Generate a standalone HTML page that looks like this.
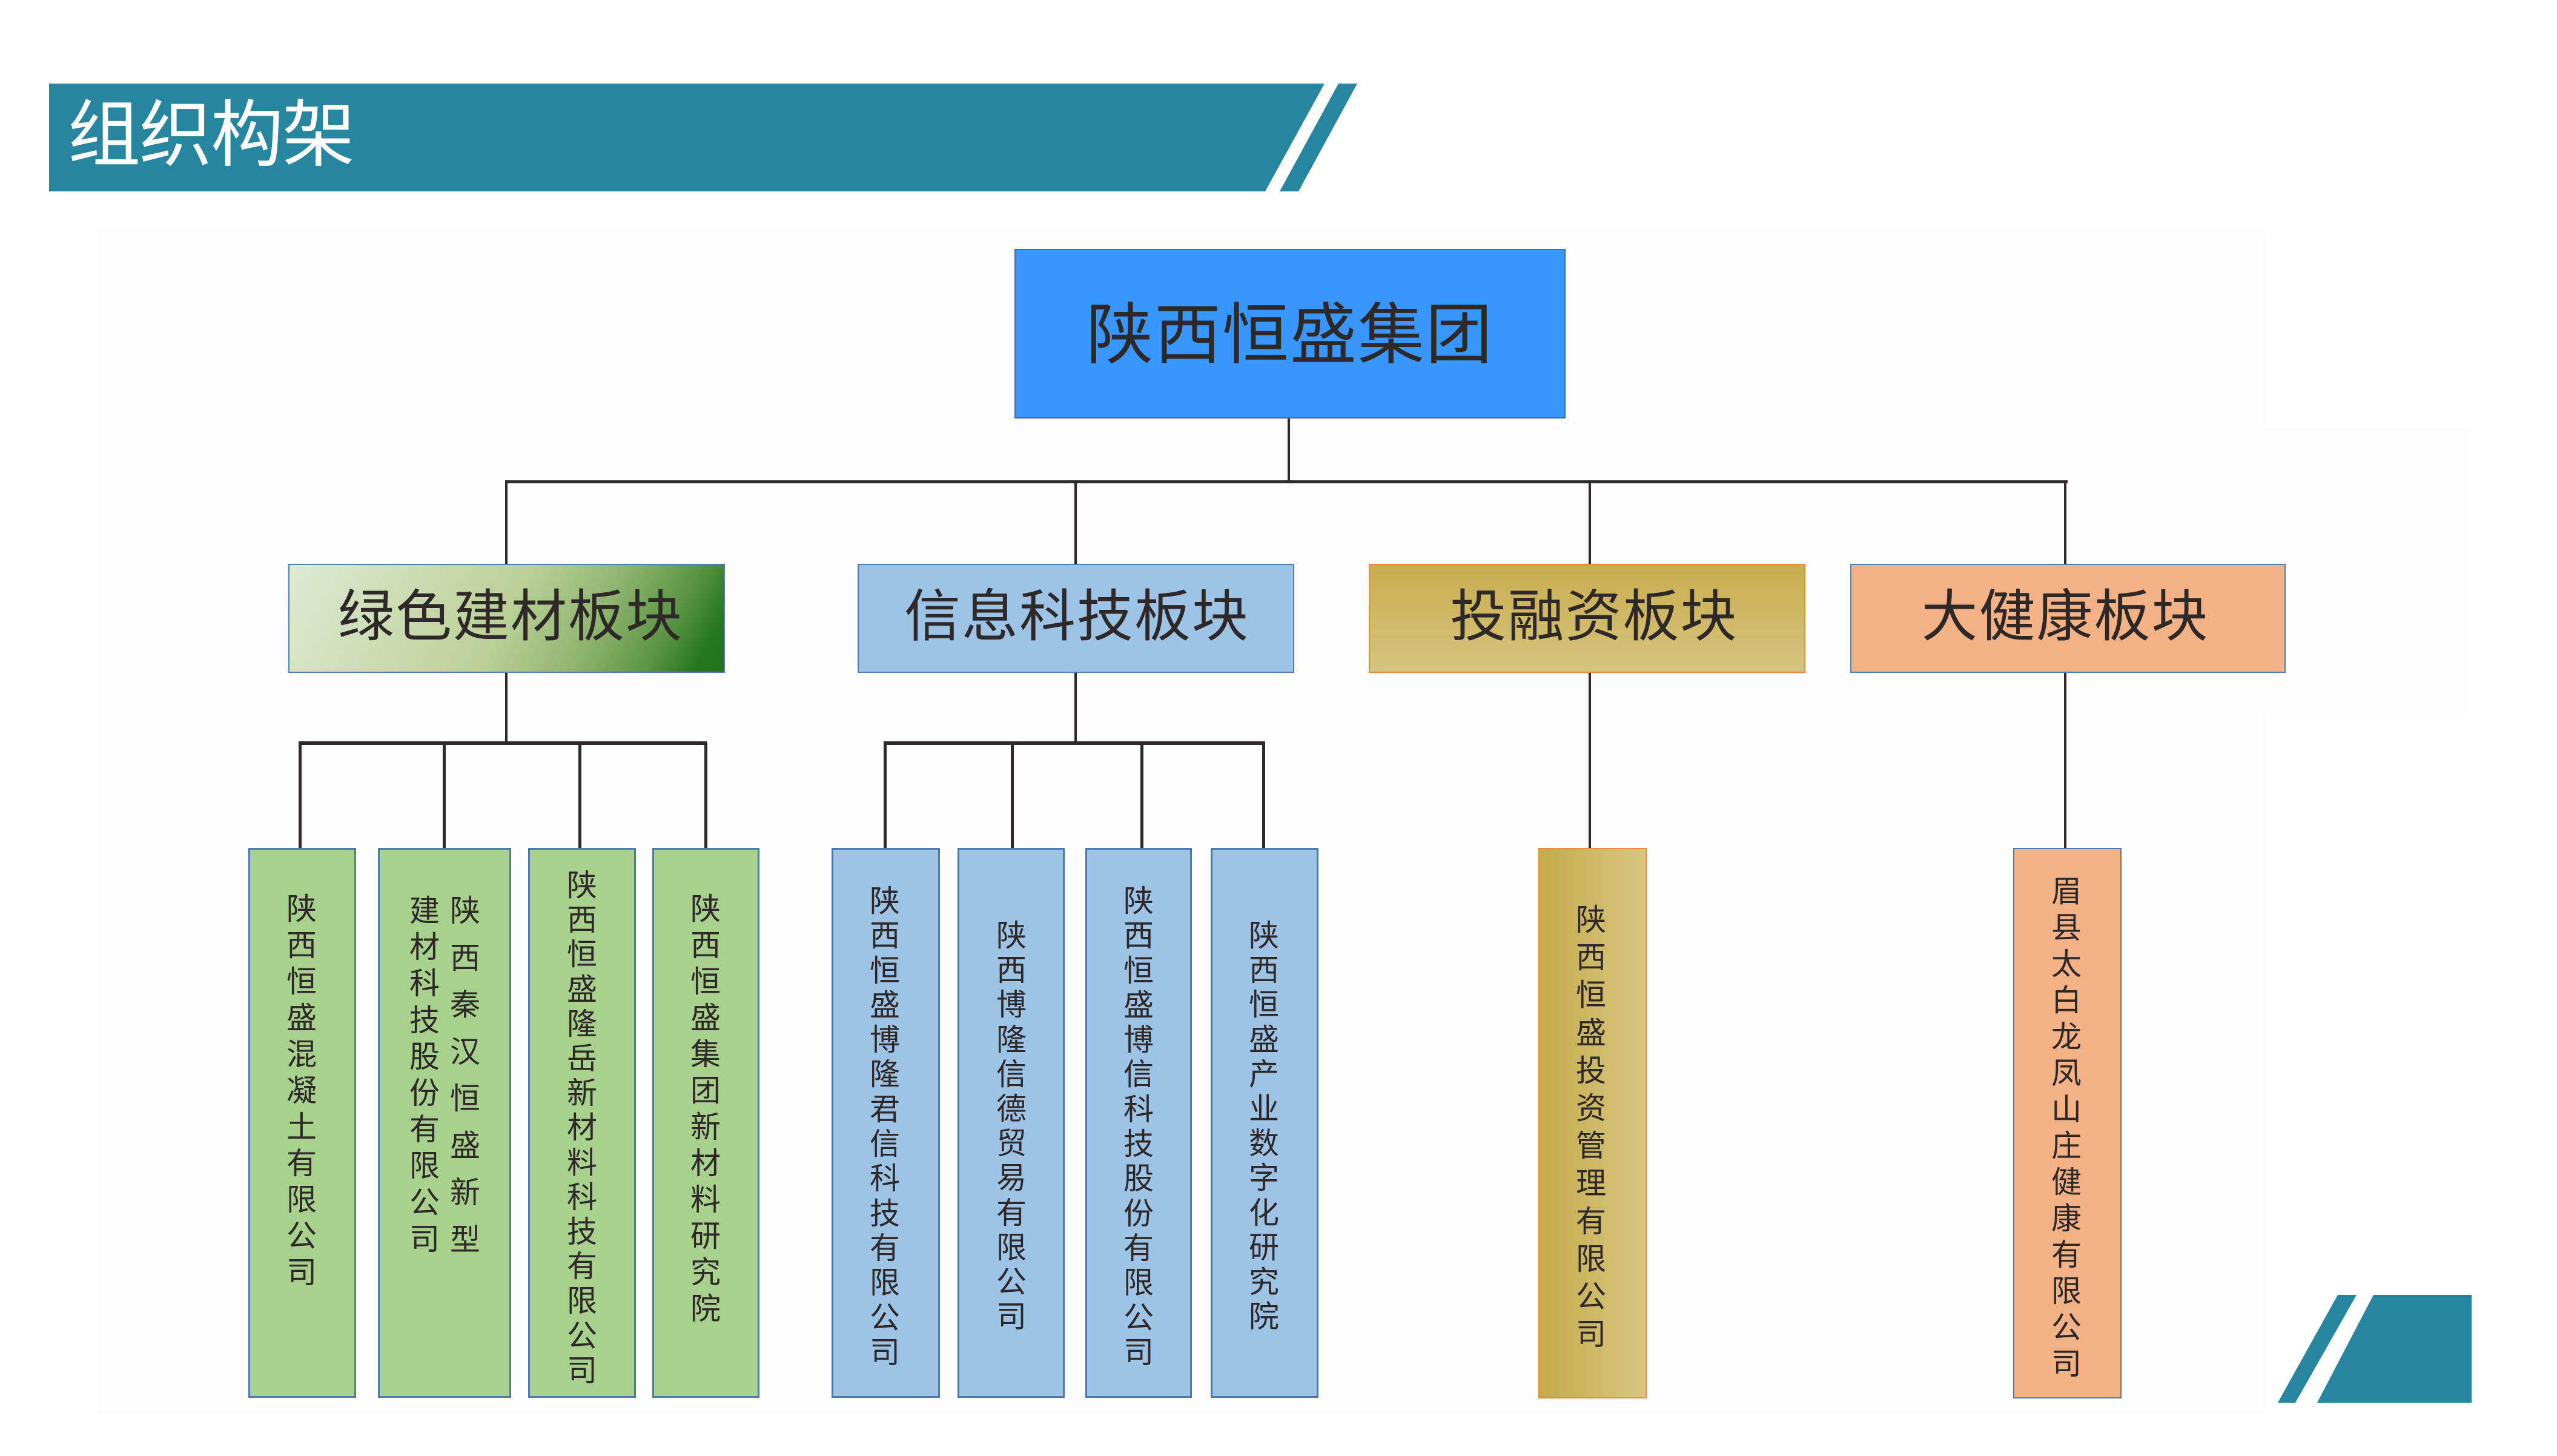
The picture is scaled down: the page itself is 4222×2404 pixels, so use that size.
<!DOCTYPE html>
<html>
<head>
<meta charset="utf-8">
<style>
  html, body { margin:0; padding:0; }
  body { width:4222px; height:2404px; position:relative; overflow:hidden; background:#ffffff;
         font-family:"Liberation Sans","Noto Sans CJK SC",sans-serif; }
  .abs { position:absolute; }
  .ln { position:absolute; background:#2f2929; }
  .box { position:absolute; box-sizing:border-box; }
  .t2 { position:absolute; width:800px; text-align:center; font-size:93px; line-height:93px;
        letter-spacing:2px; color:#2e2828; white-space:nowrap; }
  .col { position:absolute; width:60px; text-align:center; font-size:50px; color:#2e2828; }
</style>
</head>
<body>
<!-- faint panel -->
<div class="abs" style="left:160px;top:377px;width:3580px;height:1956px;background:#fcfcfc;"></div>
<div class="abs" style="left:3740px;top:706px;width:335px;height:471px;background:#fcfcfc;"></div>

<!-- header banner -->
<svg class="abs" style="left:0;top:0;" width="4222" height="2404" viewBox="0 0 4222 2404">
  <polygon points="81,138 2187,138 2089,316 81,316" fill="#27869f"/>
  <polygon points="2210,138 2241,138 2144,316 2113,316" fill="#27869f"/>
  <polygon points="3860,2138 3891,2138 3790,2316 3761,2316" fill="#27869f"/>
  <polygon points="3919,2138 4081,2138 4081,2316 3826,2316" fill="#27869f"/>
</svg>
<div class="abs" style="left:112px;top:163px;font-size:120px;line-height:120px;color:#ffffff;letter-spacing:-2px;white-space:nowrap;">组织构架</div>

<!-- top box -->
<div class="box" style="left:1675px;top:411px;width:910px;height:280px;background:#3797fd;border:2px solid #3c6ea6;"></div>
<div class="abs" style="left:1675px;top:499px;width:910px;text-align:center;font-size:110px;line-height:110px;letter-spacing:2px;color:#2e2828;white-space:nowrap;">陕西恒盛集团</div>

<!-- connectors level 1 -->
<div class="ln" style="left:2126px;top:691px;width:4px;height:104px;"></div>
<div class="ln" style="left:834px;top:793px;width:2580px;height:5px;"></div>
<div class="ln" style="left:834px;top:795px;width:4px;height:136px;"></div>
<div class="ln" style="left:1774px;top:795px;width:4px;height:136px;"></div>
<div class="ln" style="left:2623px;top:795px;width:4px;height:136px;"></div>
<div class="ln" style="left:3408px;top:795px;width:4px;height:136px;"></div>

<!-- level 2 boxes -->
<div class="box" style="left:476px;top:931px;width:721px;height:180px;border:2px solid #4f7fb5;
  background:linear-gradient(118deg,#dfead3 0%,#bad097 50%,#8fb56e 69%,#5a9544 84%,#267620 94%,#23731d 100%);"></div>
<div class="t2" style="left:443px;top:972px;">绿色建材板块</div>

<div class="box" style="left:1416px;top:931px;width:721px;height:180px;background:#9dc3e6;border:2px solid #4f7fb5;"></div>
<div class="t2" style="left:1378px;top:972px;">信息科技板块</div>

<div class="box" style="left:2260px;top:931px;width:721px;height:180px;border:2px solid #ee8a3b;
  background:linear-gradient(180deg,#c8ad4e 0%,#d6c47e 100%);"></div>
<div class="t2" style="left:2232px;top:972px;">投融资板块</div>

<div class="box" style="left:3055px;top:931px;width:719px;height:180px;background:#f3b286;border:2px solid #4f7fb5;"></div>
<div class="t2" style="left:3010px;top:972px;">大健康板块</div>

<!-- connectors level 2 -->
<div class="ln" style="left:834px;top:1111px;width:4px;height:116px;"></div>
<div class="ln" style="left:493px;top:1224px;width:674px;height:6px;"></div>
<div class="ln" style="left:493px;top:1227px;width:5px;height:173px;"></div>
<div class="ln" style="left:731px;top:1227px;width:5px;height:173px;"></div>
<div class="ln" style="left:955px;top:1227px;width:5px;height:173px;"></div>
<div class="ln" style="left:1163px;top:1227px;width:5px;height:173px;"></div>

<div class="ln" style="left:1774px;top:1111px;width:4px;height:116px;"></div>
<div class="ln" style="left:1459px;top:1224px;width:630px;height:6px;"></div>
<div class="ln" style="left:1459px;top:1227px;width:5px;height:173px;"></div>
<div class="ln" style="left:1669px;top:1227px;width:5px;height:173px;"></div>
<div class="ln" style="left:1883px;top:1227px;width:5px;height:173px;"></div>
<div class="ln" style="left:2084px;top:1227px;width:5px;height:173px;"></div>

<div class="ln" style="left:2623px;top:1111px;width:4px;height:289px;"></div>
<div class="ln" style="left:3408px;top:1111px;width:4px;height:289px;"></div>

<!-- level 3 boxes: green -->
<div class="box" style="left:410px;top:1400px;width:178px;height:908px;background:#a9d18e;border:3px solid #4d7bb0;"></div>
<div class="box" style="left:624px;top:1400px;width:220px;height:908px;background:#a9d18e;border:3px solid #4d7bb0;"></div>
<div class="box" style="left:872px;top:1400px;width:178px;height:908px;background:#a9d18e;border:3px solid #4d7bb0;"></div>
<div class="box" style="left:1077px;top:1400px;width:177px;height:908px;background:#a9d18e;border:3px solid #4d7bb0;"></div>

<!-- blue -->
<div class="box" style="left:1373px;top:1400px;width:179px;height:908px;background:#9dc3e6;border:3px solid #4d7bb0;"></div>
<div class="box" style="left:1581px;top:1400px;width:177px;height:908px;background:#9dc3e6;border:3px solid #4d7bb0;"></div>
<div class="box" style="left:1792px;top:1400px;width:176px;height:908px;background:#9dc3e6;border:3px solid #4d7bb0;"></div>
<div class="box" style="left:1999px;top:1400px;width:178px;height:908px;background:#9dc3e6;border:3px solid #4d7bb0;"></div>

<!-- gold -->
<div class="box" style="left:2540px;top:1400px;width:179px;height:909px;border:2px solid #ee8a3b;
  background:linear-gradient(90deg,#c4aa4a 0%,#d8c782 100%);"></div>
<!-- peach -->
<div class="box" style="left:3324px;top:1400px;width:179px;height:909px;background:#f3b286;border:2px solid #4d7bb0;"></div>

<!-- vertical texts -->
<div class="col" style="left:468px;top:1471px;line-height:60px;">陕<br>西<br>恒<br>盛<br>混<br>凝<br>土<br>有<br>限<br>公<br>司</div>
<div class="col" style="left:738px;top:1466px;line-height:77.5px;">陕<br>西<br>秦<br>汉<br>恒<br>盛<br>新<br>型</div>
<div class="col" style="left:671px;top:1474px;line-height:60.2px;">建<br>材<br>科<br>技<br>股<br>份<br>有<br>限<br>公<br>司</div>
<div class="col" style="left:931px;top:1434px;line-height:57.2px;">陕<br>西<br>恒<br>盛<br>隆<br>岳<br>新<br>材<br>料<br>科<br>技<br>有<br>限<br>公<br>司</div>
<div class="col" style="left:1135px;top:1471px;line-height:60px;">陕<br>西<br>恒<br>盛<br>集<br>团<br>新<br>材<br>料<br>研<br>究<br>院</div>

<div class="col" style="left:1431px;top:1460px;line-height:57.3px;">陕<br>西<br>恒<br>盛<br>博<br>隆<br>君<br>信<br>科<br>技<br>有<br>限<br>公<br>司</div>
<div class="col" style="left:1640px;top:1517px;line-height:57.2px;">陕<br>西<br>博<br>隆<br>信<br>德<br>贸<br>易<br>有<br>限<br>公<br>司</div>
<div class="col" style="left:1850px;top:1460px;line-height:57.3px;">陕<br>西<br>恒<br>盛<br>博<br>信<br>科<br>技<br>股<br>份<br>有<br>限<br>公<br>司</div>
<div class="col" style="left:2057px;top:1517px;line-height:57.2px;">陕<br>西<br>恒<br>盛<br>产<br>业<br>数<br>字<br>化<br>研<br>究<br>院</div>

<div class="col" style="left:2597px;top:1488px;line-height:62.2px;">陕<br>西<br>恒<br>盛<br>投<br>资<br>管<br>理<br>有<br>限<br>公<br>司</div>
<div class="col" style="left:3382px;top:1442px;line-height:60px;">眉<br>县<br>太<br>白<br>龙<br>凤<br>山<br>庄<br>健<br>康<br>有<br>限<br>公<br>司</div>

</body>
</html>
